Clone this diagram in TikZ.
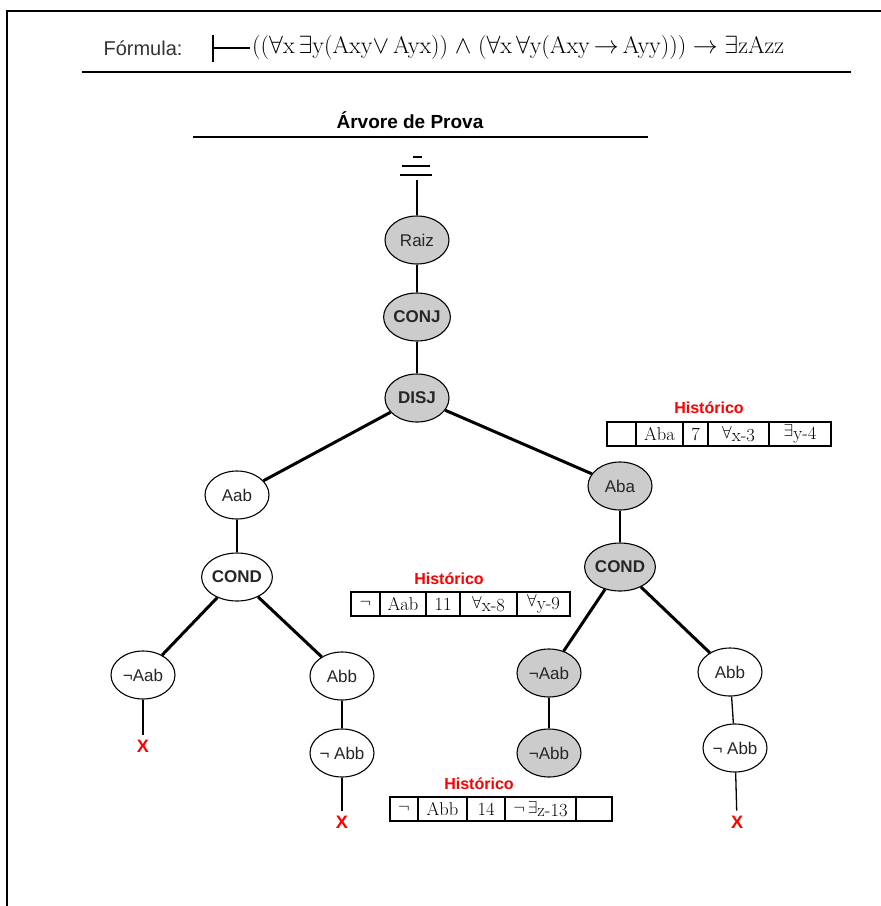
\documentclass[tikz,border=0pt]{standalone}
\usepackage{fontspec}
\newfontfamily\arialfont{Liberation Sans}
\usetikzlibrary{shapes.geometric,positioning}
\tikzset{gray style/.style={
		draw=black,
		line width=1.1pt,
		fill=gray!40,
		text=black!85,
		ellipse,
		minimum width=64pt,
		minimum height=48pt,
		inner sep=0pt,
		font=\arialfont\fontsize{17}{19}\selectfont,
	},
	white style/.style={
		draw=black,
		line width=1.1pt,
		fill=white,
		text=black!85,
		ellipse,
		minimum width=64pt,
		minimum height=48pt,
		inner sep=0pt,
		font=\arialfont\fontsize{17}{19}\selectfont,
	},
	cell style/.style={
		draw=black,
		line width=1.3pt,
		fill=white,
		rectangle,
		minimum height=24pt,
		inner sep=0pt,
		outer sep=0pt,
		font=\fontsize{18.5}{19}\selectfont,
	},
	history style/.style={
		text=red,
		font=\arialfont\bfseries\fontsize{16}{18}\selectfont,
	},
	cross style/.style={
		text=red,
		inner sep=5pt,
		font=\arialfont\bfseries\fontsize{18}{20}\selectfont,
	},
	thin edge/.style={
		line width=1.3pt
	},
	thick edge/.style={
		line width=3pt
	}
}

\begin{document}
\begin{tikzpicture}[x=1pt,y=-1pt]
	\useasboundingbox (0,0) rectangle (881,906);
	\draw[line width=2pt] (7,906) -- (7,11) -- (881,11);
	
	% formula
	\node[anchor=west, font=\arialfont\fontsize{20}{22}\selectfont, text=black!80] (FormulaLabel) at (100,48) {Fórmula:};
	\draw[line width=1.3pt] (213,35) -- (213,62);
	\draw[line width=1.3pt] (213,48) -- (250,48);
	\node[anchor=west, inner sep=0pt, font=\fontsize{24}{26}\selectfont] (Formula) at (252,48)
	{(($\forall$x\,$\exists$y(Axy$\vee$\,Ayx))\;$\wedge$\;($\forall$x\,$\forall$y(Axy\,$\rightarrow$\,Ayy)))\;$\rightarrow$\;$\exists$zAzz};
	\draw[line width=2pt] (82,72) -- (851,72);
	
	\node[font=\arialfont\bfseries\fontsize{19}{21}\selectfont] (Title) at (410,120) {Árvore de Prova};
	\draw[line width=2pt] (193,137) -- (648,137);
	
	% ground
	\draw[line width=2pt] (413,157) -- (422,157);
	\draw[line width=2pt] (402,166) -- (430,166);
	\draw[line width=2pt] (400,175) -- (432,175);
	\coordinate (Ground) at (417,180);
	
	% tree
	\node[gray style] (Raiz) at (417,240) {Raiz}
	edge [thin edge] (Ground);
	
	\node[gray style, font=\arialfont\bfseries\fontsize{17}{19}\selectfont] (Conj) at (417,317) {CONJ}
	edge [thin edge] (Raiz);
	
	\node[gray style, font=\arialfont\bfseries\fontsize{17}{19}\selectfont] (Disj) at (417,398) {DISJ}
	edge [thin edge] (Conj);
	
	\node[white style] (Aab) at (237,495) {Aab}
	edge [thick edge] (Disj);
	
	\node[gray style] (Aba) at (620,486) {Aba}
	edge [thick edge] (Disj);
	
	\node[white style, font=\arialfont\bfseries\fontsize{17}{19}\selectfont] (CondL) at (237,577) {COND}
	edge [thin edge] (Aab);
	
	\node[gray style, font=\arialfont\bfseries\fontsize{17}{19}\selectfont] (CondR) at (620,567) {COND}
	edge [thin edge] (Aba);
	
	\node[white style] (NegAabL) at (143,675) {¬Aab}
	edge [thick edge] (CondL);
	
	\node[white style] (AbbL) at (342,676) {Abb}
	edge [thick edge] (CondL);
	
	\node[white style] (NegAbbL) at (342,753) {¬ Abb}
	edge [thin edge] (AbbL);
	
	\node[gray style] (NegAabR) at (549,673) {¬Aab}
	edge [thick edge] (CondR);
	
	\node[gray style] (NegAbbR) at (549,753) {¬Abb}
	edge [thin edge] (NegAabR);
	
	\node[white style] (AbbR) at (730,672) {Abb}
	edge [thick edge] (CondR);
	
	\node[white style] (NegAbbRR) at (735,748) {¬ Abb}
	edge [thin edge] (AbbR);
	
	\node[cross style] (CrossL) at (143,746) {X}
	edge [thin edge] (NegAabL);
	\node[cross style] (CrossM) at (342,822) {X}
	edge [thin edge] (NegAbbL);
	\node[cross style] (CrossR) at (737,822) {X}
	edge [thin edge] (NegAbbRR);
	
	% historico 1
	\node[history style] (HistTitleA) at (709,408) {Histórico};
	\node[cell style, minimum width=29pt, anchor=north west] (HistA1) at (607,422) {};
	\node[cell style, minimum width=47pt, right=0pt of HistA1] (HistA2) {Aba};
	\node[cell style, minimum width=25pt, right=0pt of HistA2] (HistA3) {7};
	\node[cell style, minimum width=61pt, right=0pt of HistA3] (HistA4) {$\forall$\raisebox{-3pt}{x-3}};
	\node[cell style, minimum width=62pt, right=0pt of HistA4] (HistA5) {$\exists$\raisebox{-3pt}{y-4}};
	
	% historico 2
	\node[history style] (HistTitleB) at (449,579) {Histórico};
	\node[cell style, minimum width=29pt, anchor=north west] (HistB1) at (351,592) {$\neg$};
	\node[cell style, minimum width=46pt, right=0pt of HistB1] (HistB2) {Aab};
	\node[cell style, minimum width=34pt, right=0pt of HistB2] (HistB3) {11};
	\node[cell style, minimum width=57pt, right=0pt of HistB3] (HistB4) {$\forall$\raisebox{-3pt}{x-8}};
	\node[cell style, minimum width=53pt, right=0pt of HistB4] (HistB5) {$\forall$\raisebox{-3pt}{y-9}};
	
	% historico 3
	\node[history style] (HistTitleC) at (479,784) {Histórico};
	\node[cell style, minimum width=28pt, anchor=north west] (HistC1) at (390,797) {$\neg$};
	\node[cell style, minimum width=49pt, right=0pt of HistC1] (HistC2) {Abb};
	\node[cell style, minimum width=38pt, right=0pt of HistC2] (HistC3) {14};
	\node[cell style, minimum width=71pt, right=0pt of HistC3] (HistC4) {$\neg\,\exists$\raisebox{-3pt}{z-13}};
	\node[cell style, minimum width=36pt, right=0pt of HistC4] (HistC5) {};
\end{tikzpicture}
\end{document}
